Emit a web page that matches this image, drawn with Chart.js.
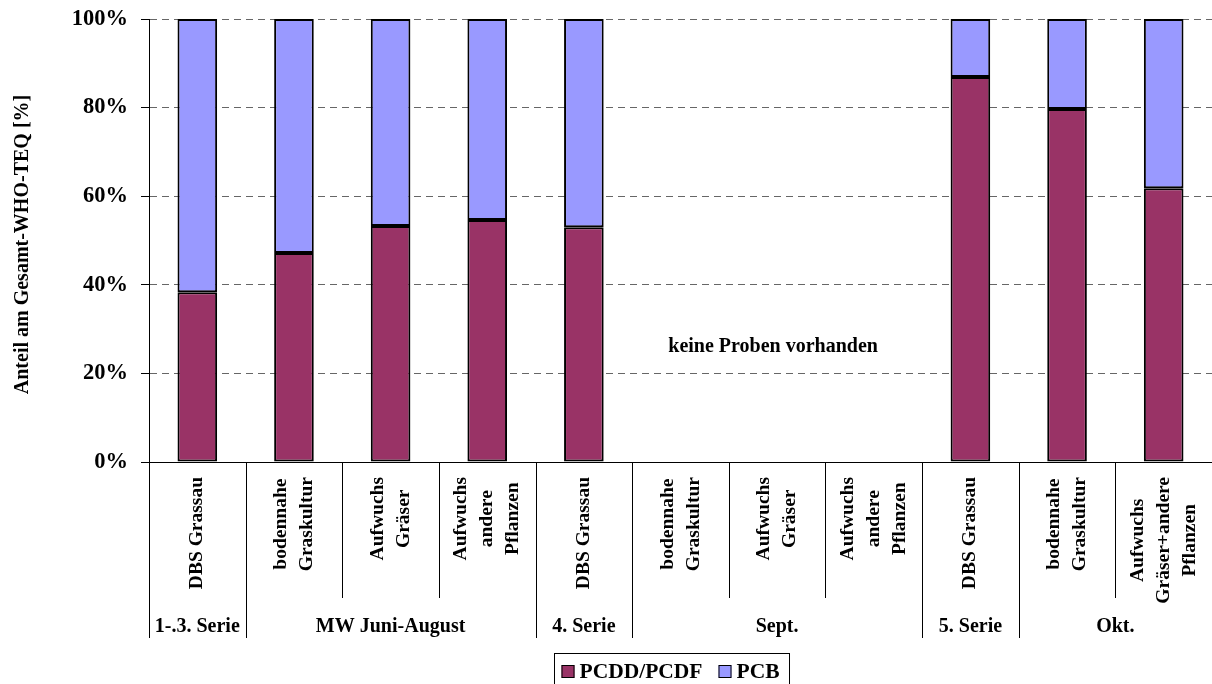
<!DOCTYPE html>
<html>
<head>
<meta charset="utf-8">
<script src="https://cdn.jsdelivr.net/npm/chart.js@4/dist/chart.umd.min.js"></script>
<style>
  body { margin: 0; background: #fff; }
  #wrap { width: 1212px; height: 684px; }
</style>
</head>
<body>
<div id="wrap"><canvas id="teqChart" width="1212" height="684"></canvas></div>
<script>
// category labels (multi-line, drawn rotated)
const categories = [
  ["DBS Grassau"],
  ["bodennahe", "Graskultur"],
  ["Aufwuchs", "Gräser"],
  ["Aufwuchs", "andere", "Pflanzen"],
  ["DBS Grassau"],
  ["bodennahe", "Graskultur"],
  ["Aufwuchs", "Gräser"],
  ["Aufwuchs", "andere", "Pflanzen"],
  ["DBS Grassau"],
  ["bodennahe", "Graskultur"],
  ["Aufwuchs", "Gräser+andere", "Pflanzen"]
];
const groupLabels = ["1-.3. Serie", "MW Juni-August", "4. Serie", "Sept.", "5. Serie", "Okt."];
const groupSizes = [1, 3, 1, 3, 1, 2];

const pcddValues = [38.3, 47.2, 53.3, 54.6, 53.0, null, null, null, 86.9, 79.7, 61.8];
const pcbValues  = [61.7, 52.8, 46.7, 45.4, 47.0, null, null, null, 13.1, 20.3, 38.2];

const yTicks = [0, 20, 40, 60, 80, 100];
const yTitle = "Anteil am Gesamt-WHO-TEQ [%]";
const noteText = "keine Proben vorhanden";
const noteValue = 26;

const SERIF = "'Liberation Serif', 'Times New Roman', serif";

const extras = {
  id: "extras",
  afterDraw(chart) {
    const ctx = chart.ctx;
    const x = chart.scales.x;
    const y = chart.scales.y;
    const area = chart.chartArea;
    const half = (x.getPixelForValue(1) - x.getPixelForValue(0)) / 2;
    const bottom = y.getPixelForValue(0);

    ctx.save();
    // separators between categories
    const groupEnds = [];
    let acc = 0;
    groupSizes.forEach(n => { acc += n; groupEnds.push(acc); });
    ctx.strokeStyle = "#000";
    ctx.lineWidth = 1;
    for (let i = 0; i <= categories.length; i++) {
      const px = Math.round(x.getPixelForValue(i) - half) + 0.5;
      const isGroup = i === 0 || groupEnds.includes(i);
      if (px > chart.width) continue;
      ctx.beginPath();
      ctx.moveTo(px, bottom);
      ctx.lineTo(px, isGroup ? 638 : 598);
      ctx.stroke();
    }

    // rotated category labels
    ctx.fillStyle = "#000";
    ctx.font = "bold 19.5px " + SERIF;
    ctx.textAlign = "center";
    ctx.textBaseline = "middle";
    const lineH = 26;
    categories.forEach((lines, i) => {
      const cx = x.getPixelForValue(i);
      const maxW = Math.max(...lines.map(l => ctx.measureText(l).width));
      const cy = bottom + 15 + maxW / 2;
      ctx.save();
      ctx.translate(cx, cy);
      ctx.rotate(-Math.PI / 2);
      lines.forEach((l, k) => {
        ctx.fillText(l, 0, (k - (lines.length - 1) / 2) * lineH);
      });
      ctx.restore();
    });

    // group labels
    ctx.font = "bold 20px " + SERIF;
    let start = 0;
    groupLabels.forEach((g, k) => {
      const end = start + groupSizes[k] - 1;
      const cx = (x.getPixelForValue(start) + x.getPixelForValue(end)) / 2;
      ctx.fillText(g, cx, 627);
      start = end + 1;
    });

    // note
    ctx.font = "bold 20px " + SERIF;
    ctx.fillText(noteText, x.getPixelForValue(6) - 4, y.getPixelForValue(noteValue));

    // y title
    ctx.save();
    ctx.font = "bold 20px " + SERIF;
    ctx.translate(23, (area.top + area.bottom) / 2 + 4);
    ctx.rotate(-Math.PI / 2);
    ctx.fillText(yTitle, 0, 0);
    ctx.restore();

    // legend
    ctx.font = "bold 21.5px " + SERIF;
    ctx.textAlign = "left";
    const ds = chart.data.datasets;
    const box = 13, gapBox = 5, gapItem = 16, padL = 7, padR = 10;
    let total = padL + padR;
    ds.forEach((d, k) => {
      total += box + gapBox + ctx.measureText(d.label).width + (k < ds.length - 1 ? gapItem : 0);
    });
    const lx = Math.round((area.left + area.right) / 2 - total / 2 - 9) + 0.5;
    const ly = 653.5;
    ctx.strokeStyle = "#000";
    ctx.strokeRect(lx, ly, total, 40);
    let cxl = lx + padL;
    ds.forEach((d, k) => {
      ctx.fillStyle = d.backgroundColor;
      ctx.fillRect(cxl, 665, box, box);
      ctx.strokeRect(cxl + 0.5, 665.5, box - 1, box - 1);
      ctx.fillStyle = "#000";
      ctx.fillText(d.label, cxl + box + gapBox, 672);
      cxl += box + gapBox + ctx.measureText(d.label).width + gapItem;
    });
    ctx.restore();
  }
};

new Chart(document.getElementById("teqChart").getContext("2d"), {
  type: "bar",
  data: {
    labels: categories.map(c => c.join(" ")),
    datasets: [
      {
        label: "PCDD/PCDF",
        data: pcddValues,
        backgroundColor: "#993366",
        borderColor: "#000",
        borderWidth: 2,
        borderSkipped: false,
        categoryPercentage: 1,
        barPercentage: 0.41
      },
      {
        label: "PCB",
        data: pcbValues,
        backgroundColor: "#9999FF",
        borderColor: "#000",
        borderWidth: 2,
        borderSkipped: false,
        categoryPercentage: 1,
        barPercentage: 0.41
      }
    ]
  },
  options: {
    responsive: false,
    animation: false,
    layout: { padding: { top: 19, right: 0, left: 0, bottom: 0 } },
    plugins: {
      legend: { display: false },
      tooltip: { enabled: false }
    },
    scales: {
      x: {
        stacked: true,
        offset: true,
        ticks: { display: false },
        grid: { display: false },
        border: { display: true, color: "#000", width: 1 },
        afterFit(scale) { scale.height = 684 - 462; scale.paddingLeft = 0; scale.paddingRight = 0; }
      },
      y: {
        stacked: true,
        min: 0,
        max: 100,
        afterBuildTicks(scale) { scale.ticks = yTicks.map(v => ({ value: v })); },
        ticks: {
          padding: 13,
          color: "#000",
          font: { family: SERIF, size: 22.5, weight: "bold" },
          callback: v => v + "%"
        },
        grid: { color: "#666", tickColor: "#000", tickLength: 8, lineWidth: 1 },
        border: { display: true, color: "#000", width: 1, dash: [7, 5] },
        afterFit(scale) { scale.width = 149; scale.paddingTop = 0; scale.paddingBottom = 0; }
      }
    }
  },
  plugins: [extras]
});
</script>
</body>
</html>
